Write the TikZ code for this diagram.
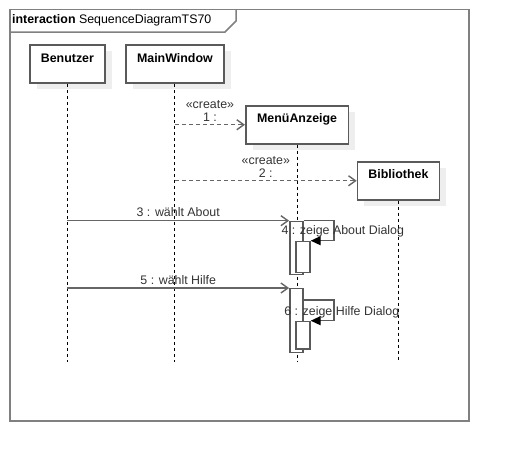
\documentclass[tikz,border=0pt]{standalone}
\usepackage{fontspec}
\setmainfont{Liberation Sans}
\usepackage{tikz}
\usetikzlibrary{arrows.meta,shadows}
\definecolor{boxgray}{HTML}{5A5A5A}
\definecolor{framegray}{HTML}{808080}
\definecolor{msggray}{HTML}{666666}
\definecolor{txtgray}{HTML}{333333}
\definecolor{shadowgray}{HTML}{EEEEEE}

\begin{document}
\begin{tikzpicture}[x=1pt,y=-1pt,%1 px = 1 pt, y goes down
    font=\fontsize{12.4}{13}\selectfont,
    obj/.style={draw=boxgray, line width=1.5pt, fill=white, anchor=north west,
        text height=9pt, text depth=13pt, inner ysep=8pt, text=black,
        font=\fontsize{12.4}{13}\selectfont\bfseries,
        drop shadow={shadow xshift=7pt, shadow yshift=-6pt, fill=shadowgray, opacity=1}},
    act/.style={draw=boxgray, line width=1.4pt, fill=white, anchor=north,
        minimum width=13pt, inner sep=0pt},
    lifeline/.style={black, line width=0.9pt, dash pattern=on 3pt off 3pt},
    msg/.style={msggray, line width=1.4pt, -{Straight Barb[length=7pt,width=10pt]}},
    create/.style={msg, dash pattern=on 4pt off 3pt},
    selfmsg/.style={boxgray, line width=1.4pt, -{Triangle[length=10pt,width=9pt,color=black]}},
    lbl/.style={text=txtgray, inner sep=2pt}
  ]
  \useasboundingbox (0,0) rectangle (509,461);

  % frame with header
  \draw[framegray, line width=1.5pt] (10,9.5) rectangle (469,421);
  \draw[framegray, line width=1.5pt] (10,32) -- (225,32) -- (236,21) -- (236,9.5);
  \node[anchor=west, inner sep=1pt, text=black] (hdr) at (11,20.5) {\textbf{interaction} SequenceDiagramTS70};

  % objects
  \node[obj, minimum width=74.7pt] (benutzer) at (29.3,44.3) {Benutzer};
  \node[obj, minimum width=98.3pt] (mainwin) at (125,44.3) {MainWindow};
  \node[obj, minimum width=102.7pt] (menu) at (245,105) {MenüAnzeige};
  \node[obj, minimum width=82pt] (biblio) at (356.7,161) {Bibliothek};

  % lifelines
  \coordinate (ende) at (0,362);
  \foreach \o in {benutzer,mainwin,menu,biblio}
    \draw[lifeline] (\o.south) -- (\o.south |- ende);

  % activations
  \node[act, minimum height=53.3pt] (act3) at (296.3,220.7) {};
  \node[act, minimum height=31.3pt, minimum width=14pt] (act4) at (303,240.7) {};
  \node[act, minimum height=63.7pt] (act5) at (296.3,288) {};
  \node[act, minimum height=27.6pt, minimum width=14pt] (act6) at (303,320.7) {};

  % create messages
  \draw[create] (mainwin.south |- menu.west) -- node[lbl, above=1pt, align=center] {«create»\\1 :} (menu.west);
  \draw[create] (mainwin.south |- biblio.west) -- node[lbl, above=1pt, align=center] {«create»\\2 :} (biblio.west);

  % calls from Benutzer
  \draw[msg] (benutzer.south |- act3.north west) -- node[lbl, above=1pt] {3 : wählt About} (act3.north west);
  \draw[msg] (benutzer.south |- act5.north west) -- node[lbl, above=1pt] {5 : wählt Hilfe} (act5.north west);

  % self calls
  \draw[selfmsg] (act3.north east) -- ++(30.3,0) -- node[lbl, xshift=9pt, yshift=-1pt] {4 : zeige About Dialog} ++(0,20) -- (act4.north east);
  \draw[selfmsg] (act5.east |- 0,300) -- ++(30.3,0) -- node[lbl, xshift=8pt, yshift=-1.5pt] {6 : zeige Hilfe Dialog} ++(0,20.7) -- (act6.north east);
\end{tikzpicture}
\end{document}
